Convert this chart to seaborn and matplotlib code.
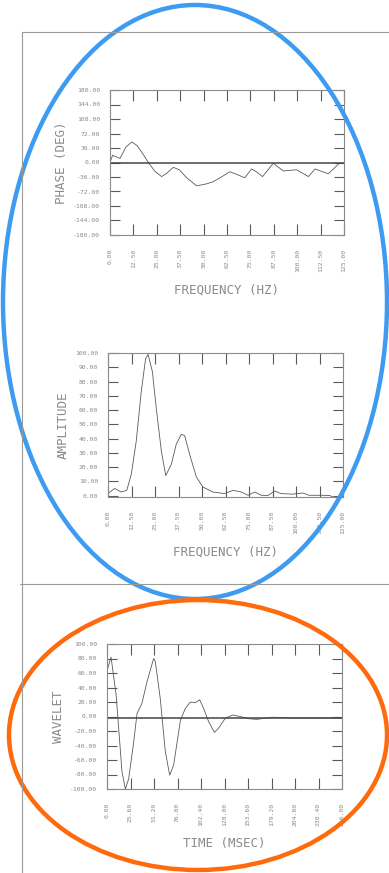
import numpy as np
import pandas as pd
import matplotlib
matplotlib.use("Agg")
import matplotlib.pyplot as plt
import seaborn as sns
from matplotlib.patches import Ellipse
from matplotlib.lines import Line2D

# phase spectrum (deg)
phase_freq = [0, 1.4, 5.3, 8.5, 11.6, 14.5, 17.5, 20.5, 24, 27.6, 30.5, 33.8, 37, 41, 46.3,
              51.6, 55, 58.8, 64, 68, 72, 75.6, 78.5, 81.5, 87.2, 92.6, 99.7, 106, 109.5,
              116.6, 122.5]
phase_deg = [0, 18, 10, 38, 51, 42, 22, 0, -22, -35, -26, -12, -18, -38, -58,
             -53, -48, -38, -23, -30, -38, -16, -24, -35, -2, -21, -18, -35, -16,
             -28, -2]

# amplitude spectrum
amp_freq = [0, 3.5, 7, 10, 12.4, 15, 17.7, 20, 21.3, 23.6, 25.7, 28.4, 30.7, 33.7, 36.3,
            39, 40.8, 43.4, 47, 50.5, 55.8, 62, 66.5, 71, 74.5, 78, 81.6, 85, 88.7, 92,
            98, 103.7, 107, 114, 118, 121.5, 125]
amp_val = [1.4, 5, 2.5, 3.7, 15, 38, 73, 96, 99, 87, 61, 31, 14, 22, 36,
           43, 42, 29, 13, 6, 2.5, 1.4, 3.7, 2.5, 0.2, 2.5, 0.2, 0, 3.2, 1.4,
           1, 1.8, 0.2, 0.2, 0, -2, -2]

# wavelet (time domain)
wav_time = [0, 4.4, 10, 16.3, 20, 23.6, 29, 32.7, 38, 43.6, 50.8, 52.6, 58, 63.5, 68.3,
            72.6, 80, 85.3, 90.8, 96, 101, 105.3, 110.7, 117, 121.6, 129, 137, 145, 154,
            163, 180, 200, 230, 256]
wav_val = [63, 82, 29, -76, -100, -86, -36, 4, 18, 48, 80, 76, 25, -48, -81,
           -67, -5, 11, 20, 19, 23, 11, -7, -22, -16, -2, 2, 0, -3,
           -4, -1, -2, -2, -2]

freq_ticks = [0, 12.5, 25, 37.5, 50, 62.5, 75, 87.5, 100, 112.5, 125]
phase_ticks = [-180, -144, -108, -72, -36, 0, 36, 72, 108, 144, 180]
amp_ticks = [0, 10, 20, 30, 40, 50, 60, 70, 80, 90, 100]
time_ticks = [0, 25.6, 51.2, 76.8, 102.4, 128, 153.6, 179.2, 204.8, 230.4, 256]
wav_ticks = [-100, -80, -60, -40, -20, 0, 20, 40, 60, 80, 100]

sns.set_style("white")
plt.rcParams['font.family'] = ['DejaVu Sans Mono']

W, H = 389, 873
fig = plt.figure(figsize=(W / 100, H / 100), dpi=100)

GRAY = "#8a8a8a"
LINE = "#5a5a5a"


def frac(left, top, right, bottom):
    return [left / W, 1 - bottom / H, (right - left) / W, (bottom - top) / H]


def style_axes(ax, xt, yt, xlab, ylab):
    ax.set_xticks(xt)
    ax.set_yticks(yt)
    ax.set_xticklabels([f"{v:.2f}" for v in xt], rotation=90, fontsize=4.6, color=GRAY)
    ax.set_yticklabels([f"{v:.2f}" for v in yt], fontsize=4.6, color=GRAY)
    ax.tick_params(axis='x', direction='in', length=8, width=0.8, color=LINE,
                   top=True, bottom=True, pad=10)
    ax.tick_params(axis='y', direction='in', length=7, width=0.8, color=LINE,
                   left=True, right=True, pad=7)
    for s in ax.spines.values():
        s.set_color(GRAY)
        s.set_linewidth(0.8)
    ax.set_xlabel(xlab, fontsize=9, color=GRAY, labelpad=8)
    ax.set_ylabel(ylab, fontsize=9, color=GRAY, labelpad=4)
    ax.grid(False)


# phase
ax1 = fig.add_axes(frac(110, 90, 344, 235))
sns.lineplot(x=phase_freq, y=phase_deg, ax=ax1, color=LINE, linewidth=0.6)
ax1.axhline(0, color="#444444", linewidth=1.1)
ax1.set_xlim(0, 125)
ax1.set_ylim(-180, 180)
style_axes(ax1, freq_ticks, phase_ticks, "FREQUENCY (HZ)", "PHASE (DEG)")

# amplitude
ax2 = fig.add_axes(frac(108, 353, 343, 497))
sns.lineplot(x=amp_freq, y=amp_val, ax=ax2, color=LINE, linewidth=0.6)
ax2.set_xlim(0, 125)
ax2.set_ylim(-1, 100)
style_axes(ax2, freq_ticks, amp_ticks, "FREQUENCY (HZ)", "AMPLITUDE")

# wavelet
ax3 = fig.add_axes(frac(107, 644, 342, 789))
sns.lineplot(x=wav_time, y=wav_val, ax=ax3, color=LINE, linewidth=0.6)
ax3.axhline(-2, color="#444444", linewidth=1.1)
ax3.set_xlim(0, 256)
ax3.set_ylim(-100, 100)
style_axes(ax3, time_ticks, wav_ticks, "TIME (MSEC)", "WAVELET")

# page frame from the scan
fig.add_artist(Line2D([22 / W, 22 / W], [1 - 32 / H, 0], transform=fig.transFigure,
                      color="#9a9a9a", linewidth=0.8))
fig.add_artist(Line2D([22 / W, 1], [1 - 32 / H, 1 - 32 / H], transform=fig.transFigure,
                      color="#9a9a9a", linewidth=0.8))
fig.add_artist(Line2D([20 / W, 1], [1 - 584 / H, 1 - 584 / H], transform=fig.transFigure,
                      color="#9a9a9a", linewidth=0.8))

# highlight ellipses
fig.add_artist(Ellipse((195 / W, 1 - 302 / H), 384 / W, 594 / H, transform=fig.transFigure,
                       fill=False, edgecolor="#3d9cf2", linewidth=3.2))
fig.add_artist(Ellipse((198 / W, 1 - 735 / H), 378 / W, 270 / H, transform=fig.transFigure,
                       fill=False, edgecolor="#ff6a0d", linewidth=3.2))

fig.savefig("out.png", dpi=100, facecolor="white")
